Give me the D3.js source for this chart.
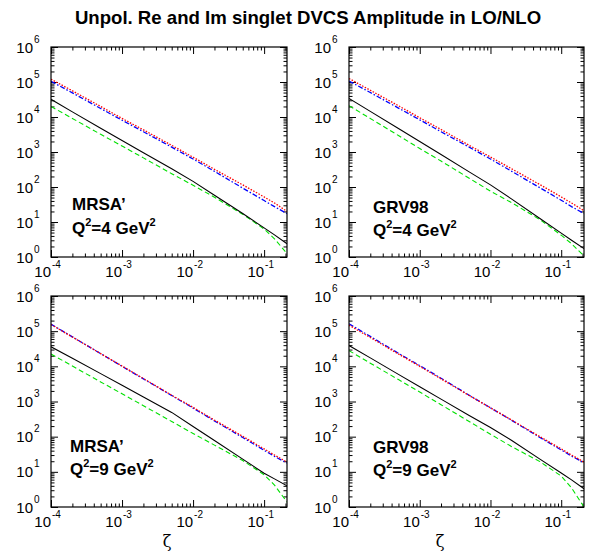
<!DOCTYPE html>
<html><head><meta charset="utf-8">
<script src="https://cdn.jsdelivr.net/npm/d3@7"></script>
<style>
body{margin:0;background:#fff}
svg{display:block}
text{font-family:"Liberation Sans",Arial,Helvetica,sans-serif;fill:#000}
</style>
</head><body>
<svg id="c" width="591" height="552"></svg>
<script>
// ---------------- data ----------------
const zeta = [1e-4, 2e-4, 5e-4, 1e-3, 2e-3, 5e-3, 1e-2, 2e-2, 5e-2, 0.1, 0.14, 0.21];
const xTickValues = [1e-4, 1e-3, 1e-2, 1e-1];
const xTickExps = ["-4", "-3", "-2", "-1"];
const yTickValues = [1, 10, 100, 1e3, 1e4, 1e5, 1e6];
const yTickExps = ["0", "1", "2", "3", "4", "5", "6"];
const panelPdfs = ["MRSA\u2019", "GRV98", "MRSA\u2019", "GRV98"];
const panelQ2 = ["4", "4", "9", "9"];
const titleText = "Unpol. Re and Im singlet DVCS Amplitude in LO/NLO";
const xLabel = "\u03b6";

// MRSA', Q^2 = 4 GeV^2
const mrsa4Red   = [1.2e5, 5.6e4, 2.0e4, 9100, 4300, 1550, 710, 320, 115, 52, 35, 20];
const mrsa4Blue  = [1.05e5, 4.9e4, 1.75e4, 8100, 3800, 1380, 630, 280, 93, 41, 27.5, 17.4];
const mrsa4Black = [32000, 14000, 4800, 2140, 955, 330, 145, 58, 17.4, 6.8, 4.3, 2.4];
const mrsa4Green = [20000, 9100, 3200, 1480, 680, 240, 112, 51, 16.6, 6.3, 3.3, 1.26];
// GRV98, Q^2 = 4 GeV^2
const grv4Red   = [1.26e5, 5.8e4, 2.1e4, 9500, 4400, 1550, 720, 330, 117, 52, 35, 21];
const grv4Blue  = [1.07e5, 5.0e4, 1.8e4, 8300, 3800, 1380, 630, 280, 95, 42, 27.5, 17.4];
const grv4Black = [34000, 14500, 4700, 2000, 850, 270, 115, 45, 12.6, 4.8, 3.0, 1.74];
const grv4Green = [21000, 9100, 2950, 1260, 550, 178, 76, 35.5, 11.7, 4.2, 2.4, 1.07];
// MRSA', Q^2 = 9 GeV^2
const mrsa9Red   = [1.55e5, 6.8e4, 2.3e4, 10200, 4500, 1510, 680, 295, 102, 45, 30, 19];
const mrsa9Blue  = [1.58e5, 6.9e4, 2.3e4, 10000, 4400, 1480, 650, 280, 95, 41, 27.5, 17.8];
const mrsa9Black = [36000, 17000, 6200, 2900, 1350, 490, 195, 78, 23, 9.1, 6.3, 4.0];
const mrsa9Green = [22400, 10200, 3600, 1660, 760, 270, 123, 57.5, 21, 8.3, 4.2, 1.38];
// GRV98, Q^2 = 9 GeV^2
const grv9Red   = [1.48e5, 6.6e4, 2.24e4, 10000, 4400, 1480, 660, 295, 100, 45, 30, 19];
const grv9Blue  = [1.62e5, 7.1e4, 2.35e4, 10500, 4600, 1510, 660, 290, 95, 42, 28, 18.2];
const grv9Black = [39000, 17400, 5900, 2630, 1170, 400, 182, 78, 23, 9.3, 5.9, 3.3];
const grv9Green = [28000, 12300, 4200, 1860, 810, 270, 117, 52, 19.5, 7.6, 3.5, 1.0];

// ---------------- layout / styles ----------------
const panels = [
  {x0: 51,  x1: 287, y0: 47,  y1: 257, tx: 21, tb1: 210, tb2: 234, series: [mrsa4Green, mrsa4Black, mrsa4Blue, mrsa4Red]},
  {x0: 349, x1: 584, y0: 47,  y1: 257, tx: 24, tb1: 213, tb2: 236, series: [grv4Green, grv4Black, grv4Blue, grv4Red]},
  {x0: 51,  x1: 287, y0: 296, y1: 507, tx: 19, tb1: 452, tb2: 475, series: [mrsa9Green, mrsa9Black, mrsa9Blue, mrsa9Red]},
  {x0: 349, x1: 584, y0: 296, y1: 507, tx: 24, tb1: 453, tb2: 476, series: [grv9Green, grv9Black, grv9Blue, grv9Red]}
];
const styles = [
  {stroke: "#00e000", dash: "5,3", w: 1.1},
  {stroke: "#000000", dash: null, w: 1.1},
  {stroke: "#0000ff", dash: "5,2,1.5,2", w: 1.3},
  {stroke: "#ff0000", dash: "1.5,1.5", w: 1.3}
];

const svg = d3.select("#c");

svg.append("text")
  .attr("x", 308).attr("y", 24)
  .attr("text-anchor", "middle")
  .style("font-size", "18.6px").style("font-weight", "bold")
  .text(titleText);

const minor = (lo, hi) => {
  const out = [];
  for (let e = lo; e < hi; e++) for (let m = 2; m <= 9; m++) out.push(m * Math.pow(10, e));
  return out;
};

panels.forEach((p, i) => {
  const x = d3.scaleLog().domain([1e-4, 0.21]).range([p.x0, p.x1]);
  const y = d3.scaleLog().domain([1, 1e6]).range([p.y1, p.y0]);
  const g = svg.append("g");
  const clipId = "clip" + i;
  g.append("clipPath").attr("id", clipId).append("rect")
    .attr("x", p.x0).attr("y", p.y0).attr("width", p.x1 - p.x0).attr("height", p.y1 - p.y0);

  const xMinor = minor(-4, 0).filter(v => v < 0.21 && !xTickValues.includes(v));
  const yMinor = minor(0, 6);

  const mk = (axisFn, scale, vals, size) => axisFn(scale).tickValues(vals).tickSize(size).tickFormat("");
  const addAxis = (axis, tx, ty) => {
    const a = g.append("g").attr("transform", `translate(${tx},${ty})`).call(axis);
    a.select(".domain").remove();
    a.selectAll("line").attr("stroke", "#000").attr("stroke-width", 1);
  };
  addAxis(mk(d3.axisBottom, x, xTickValues, -7), 0, p.y1);
  addAxis(mk(d3.axisBottom, x, xMinor, -3.5), 0, p.y1);
  addAxis(mk(d3.axisTop, x, xTickValues, -7), 0, p.y0);
  addAxis(mk(d3.axisTop, x, xMinor, -3.5), 0, p.y0);
  addAxis(mk(d3.axisLeft, y, yTickValues, -7), p.x0, 0);
  addAxis(mk(d3.axisLeft, y, yMinor, -3.5), p.x0, 0);
  addAxis(mk(d3.axisRight, y, yTickValues, -7), p.x1, 0);
  addAxis(mk(d3.axisRight, y, yMinor, -3.5), p.x1, 0);

  const line = d3.line().x((d, k) => x(zeta[k])).y(d => y(d));
  const cg = g.append("g").attr("clip-path", `url(#${clipId})`);
  p.series.forEach((s, k) => {
    cg.append("path").datum(s)
      .attr("d", line)
      .attr("fill", "none")
      .attr("stroke", styles[k].stroke)
      .attr("stroke-width", styles[k].w)
      .attr("stroke-dasharray", styles[k].dash);
  });

  g.append("rect").attr("x", p.x0).attr("y", p.y0)
    .attr("width", p.x1 - p.x0).attr("height", p.y1 - p.y0)
    .attr("fill", "none").attr("stroke", "#000").attr("stroke-width", 1.2);

  yTickValues.forEach((v, k) => {
    const yy = y(v);
    g.append("text").attr("x", p.x0 - 18).attr("y", yy + 5.5)
      .attr("text-anchor", "end").style("font-size", "15px").text("10");
    g.append("text").attr("x", p.x0 - 17).attr("y", yy - 4.5)
      .attr("text-anchor", "start").style("font-size", "10px").text(yTickExps[k]);
  });
  xTickValues.forEach((v, k) => {
    const xx = x(v);
    g.append("text").attr("x", xx).attr("y", p.y1 + 20)
      .attr("text-anchor", "end").style("font-size", "15px").text("10");
    g.append("text").attr("x", xx + 1).attr("y", p.y1 + 11)
      .attr("text-anchor", "start").style("font-size", "10px").text(xTickExps[k]);
  });

  g.append("text").attr("x", p.x0 + p.tx).attr("y", p.tb1)
    .style("font-size", "17px").style("font-weight", "bold").text(panelPdfs[i]);
  const t2 = g.append("text").attr("x", p.x0 + p.tx).attr("y", p.tb2)
    .style("font-size", "17px").style("font-weight", "bold");
  t2.append("tspan").text("Q");
  t2.append("tspan").attr("dy", -8).style("font-size", "11px").text("2");
  t2.append("tspan").attr("dy", 8).text("=" + panelQ2[i] + " GeV");
  t2.append("tspan").attr("dy", -8).style("font-size", "11px").text("2");
});

[167, 440].forEach(cx => {
  svg.append("text").attr("x", cx).attr("y", 547)
    .attr("text-anchor", "middle")
    .style("font-size", "16px")
    .style("font-family", "'DejaVu Serif', serif")
    .text(xLabel);
});
</script>
</body></html>
